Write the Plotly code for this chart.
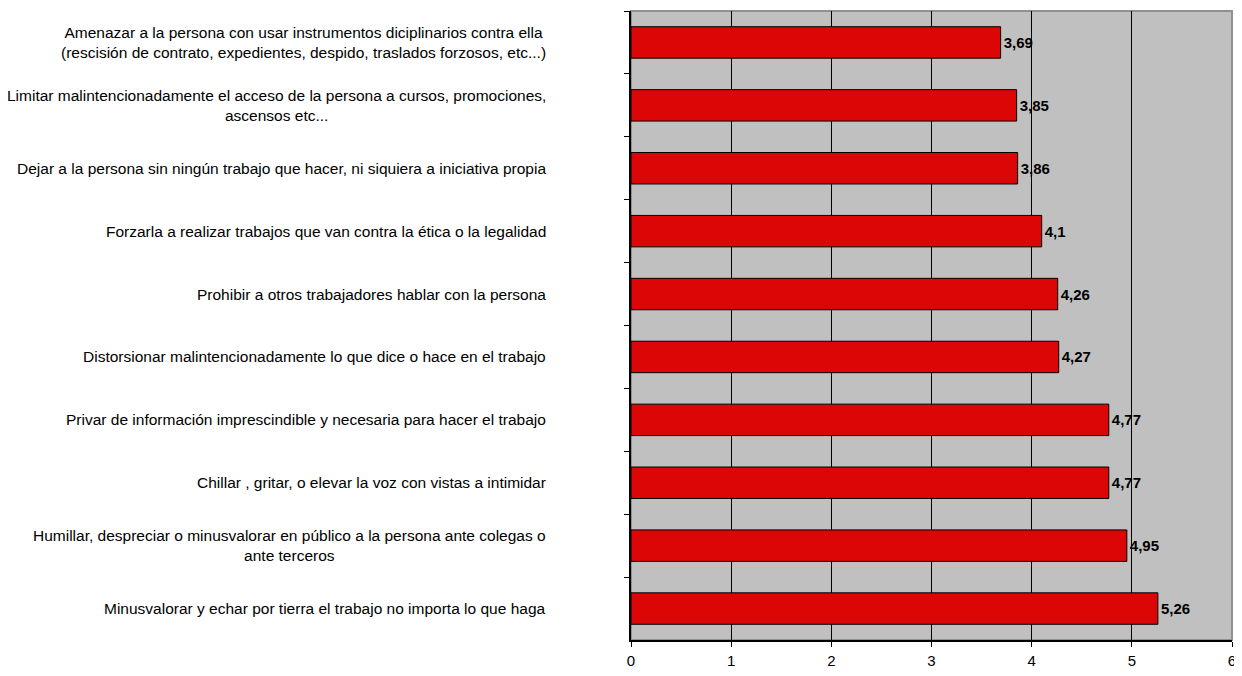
import plotly.graph_objects as go

# Items, listed top to bottom as in the chart
labels = [
    "Amenazar a la persona con usar instrumentos diciplinarios contra ella<br>(rescisión de contrato, expedientes, despido, traslados forzosos, etc...)",
    "Limitar malintencionadamente el acceso de la persona a cursos, promociones,<br>ascensos etc...",
    "Dejar a la persona sin ningún trabajo que hacer, ni siquiera a iniciativa propia",
    "Forzarla a realizar trabajos que van contra la ética o la legalidad",
    "Prohibir a otros trabajadores hablar con la persona",
    "Distorsionar malintencionadamente lo que dice o hace en el trabajo",
    "Privar de información imprescindible y necesaria para hacer el trabajo",
    "Chillar , gritar, o elevar la voz con vistas a intimidar",
    "Humillar, despreciar o minusvalorar en público a la persona ante colegas o<br>ante terceros",
    "Minusvalorar y echar por tierra el trabajo no importa lo que haga",
]
values = [3.69, 3.85, 3.86, 4.1, 4.26, 4.27, 4.77, 4.77, 4.95, 5.26]
x_ticks = [0, 1, 2, 3, 4, 5, 6]

value_text = [f"{v:g}".replace(".", ",") for v in values]

FONT = "Liberation Sans, Arial, sans-serif"
FS = 15.5

fig = go.Figure()
fig.add_trace(
    go.Bar(
        y=labels,
        x=values,
        orientation="h",
        marker=dict(color="#DD0606", line=dict(color="black", width=1)),
        text=value_text,
        textposition="outside",
        textfont=dict(family=FONT, size=15, color="black", weight="bold"),
        constraintext="none",
        cliponaxis=False,
        hoverinfo="skip",
    )
)

# category labels (centered lines, block right-aligned)
for lab in labels:
    fig.add_annotation(
        x=-0.138, xref="paper", y=lab, yref="y",
        text=lab, showarrow=False,
        xanchor="right", yanchor="middle", align="center",
        font=dict(family=FONT, size=FS, color="black"),
    )

# plot area border (grey, like Excel)
fig.add_shape(
    type="rect", xref="paper", yref="paper", x0=0, x1=1, y0=0, y1=1,
    line=dict(color="#909090", width=2), layer="below",
)

# page body adds an 8px offset; size and margins compensate for it
fig.update_layout(
    width=1234,
    height=662,
    margin=dict(l=623, r=10, t=3, b=30),
    paper_bgcolor="white",
    plot_bgcolor="#C0C0C0",
    bargap=0.5,
    showlegend=False,
    font=dict(family=FONT, size=FS, color="black"),
)
fig.update_xaxes(
    range=[0, 6],
    tickvals=x_ticks,
    ticks="outside",
    ticklen=5,
    tickcolor="black",
    ticklabeloverflow="allow",
    ticklabelstandoff=1,
    automargin=False,
    showgrid=True,
    gridcolor="black",
    gridwidth=1,
    showline=True,
    linecolor="black",
    linewidth=2,
    zeroline=False,
    tickfont=dict(family=FONT, size=15),
)
fig.update_yaxes(
    autorange="reversed",
    showticklabels=False,
    ticks="outside",
    tickson="boundaries",
    ticklen=5,
    tickcolor="black",
    showgrid=False,
    showline=True,
    linecolor="black",
    linewidth=2,
)

fig.write_html("out.html")
